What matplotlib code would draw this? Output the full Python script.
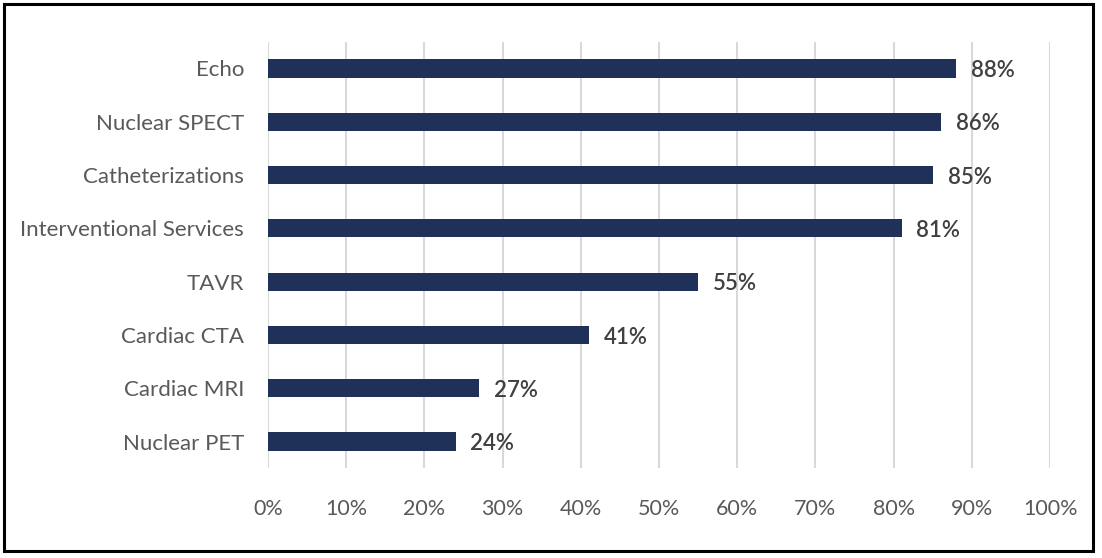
import matplotlib
matplotlib.use('Agg')
import matplotlib.pyplot as plt
from matplotlib.patches import Rectangle
from matplotlib.ticker import PercentFormatter

categories = ['Echo', 'Nuclear SPECT', 'Catheterizations', 'Interventional Services',
              'TAVR', 'Cardiac CTA', 'Cardiac MRI', 'Nuclear PET']
values = [88, 86, 85, 81, 55, 41, 27, 24]
xticks = [0, 10, 20, 30, 40, 50, 60, 70, 80, 90, 100]

plt.rcParams['font.family'] = ['Lato', 'DejaVu Sans']

fig = plt.figure(figsize=(11.02, 5.58), dpi=100)
ax = fig.add_axes([0.243, 0.161, 0.710, 0.764])

pos = list(range(len(categories)))[::-1]
ax.barh(pos, values, height=0.34, color='#1f3158', zorder=3)

for p, v in zip(pos, values):
    ax.text(v + 1.9, p - 0.04, f'{v}%', va='center', ha='left', fontsize=16,
            color='#404040', fontweight='semibold')

ax.set_xlim(0, 100)
ax.set_ylim(-0.5, len(categories) - 0.5)
ax.set_xticks(xticks)
ax.xaxis.set_major_formatter(PercentFormatter(decimals=0))
ax.set_yticks(pos)
ax.set_yticklabels(categories)
ax.tick_params(axis='both', length=0, labelsize=16, labelcolor='#595959')
ax.tick_params(axis='x', labelsize=15.5, pad=22)
ax.tick_params(axis='y', pad=17)
ax.grid(axis='x', color='#d9d9d9', linewidth=1.5, zorder=0)
for s in ax.spines.values():
    s.set_visible(False)

# outer frame
fig.patches.append(Rectangle((0.004, 0.012), 0.988, 0.98, transform=fig.transFigure,
                             fill=False, edgecolor='black', linewidth=2.2))

fig.savefig('out.png', dpi=100)
